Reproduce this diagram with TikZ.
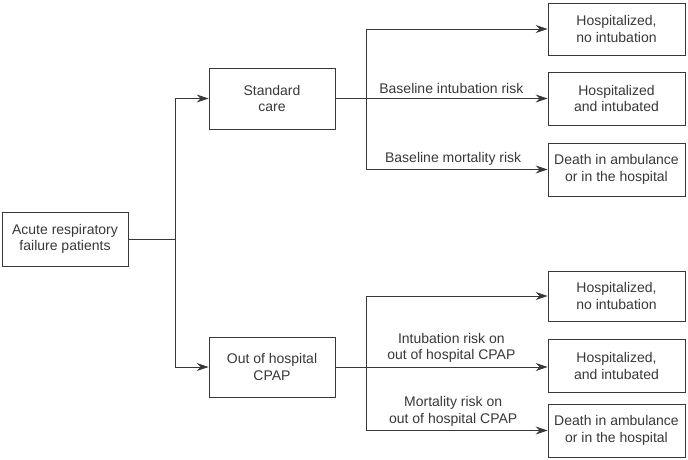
\documentclass[tikz,border=0pt]{standalone}
\usepackage{fontspec}
\setmainfont{Liberation Sans}
\usetikzlibrary{arrows.meta}
\definecolor{ink}{HTML}{383838}

\tikzset{
  box/.style={draw=ink, line width=0.8pt, text=ink, align=center, inner sep=0pt,
    font=\fontsize{14}{16.5}\selectfont},
  outbox/.style={box, minimum width=137pt, minimum height=53pt},
  link/.style={draw=ink, line width=0.8pt},
  arr/.style={link, -{Stealth[length=12pt,width=8pt,inset=4pt]}},
  lbl/.style={text=ink, align=center, inner sep=0pt, font=\fontsize{14}{16.5}\selectfont}
}

\begin{document}
\begin{tikzpicture}[x=1pt, y=-1pt]
  \useasboundingbox (0,0) rectangle (688,460);

  % Patients
  \node[box, minimum width=126pt, minimum height=54pt] (patients) at (65,239) {Acute respiratory\\failure patients};
  \coordinate (split) at (175,239);

  % Standard care
  \node[box, minimum width=126pt, minimum height=61pt] (std) at (272,98.5) {Standard\\care};
  \coordinate (stdsplit) at (366,98.5);

  % Out of hospital CPAP
  \node[box, minimum width=126pt, minimum height=60pt] (cpap) at (272,367) {Out of hospital\\CPAP};
  \coordinate (cpapsplit) at (366,367);

  % Outcomes, standard care
  \node[outbox, minimum height=52pt] (stdnone) at (616.5,29) {Hospitalized,\\no intubation};
  \node[outbox] (stdintub) at (616.5,98.5) {Hospitalized\\and intubated};
  \node[outbox] (stddeath) at (616.5,169.5) {Death in ambulance\\or in the hospital};

  % Outcomes, CPAP
  \node[outbox, minimum height=50pt] (cpapnone) at (616.5,296) {Hospitalized,\\no intubation};
  \node[outbox] (cpapintub) at (616.5,366) {Hospitalized,\\and intubated};
  \node[outbox] (cpapdeath) at (616.5,430.5) {Death in ambulance\\or in the hospital};

  % Connectors
  \draw[link] (patients) -- (split);
  \draw[arr] (split) |- (std.west);
  \draw[arr] (split) |- (cpap.west);

  \draw[link] (std) -- (stdsplit);
  \draw[arr] (stdsplit) |- (stdnone.west);
  \draw[arr] (stdsplit) -- (stdsplit -| stdintub.west)
    node[lbl, above=4pt, pos=0.47] {Baseline intubation risk};
  \draw[arr] (stdsplit) |- (stddeath.west)
    node[lbl, above=4pt, pos=0.74] {Baseline mortality risk};

  \draw[link] (cpap) -- (cpapsplit);
  \draw[arr] (cpapsplit) |- (cpapnone.west);
  \draw[arr] (cpapsplit) -- (cpapsplit -| cpapintub.west)
    node[lbl, above=4pt, pos=0.47] {Intubation risk on\\out of hospital CPAP};
  \draw[arr] (cpapsplit) |- (cpapdeath.west)
    node[lbl, above=4pt, pos=0.74] {Mortality risk on\\out of hospital CPAP};
\end{tikzpicture}
\end{document}
